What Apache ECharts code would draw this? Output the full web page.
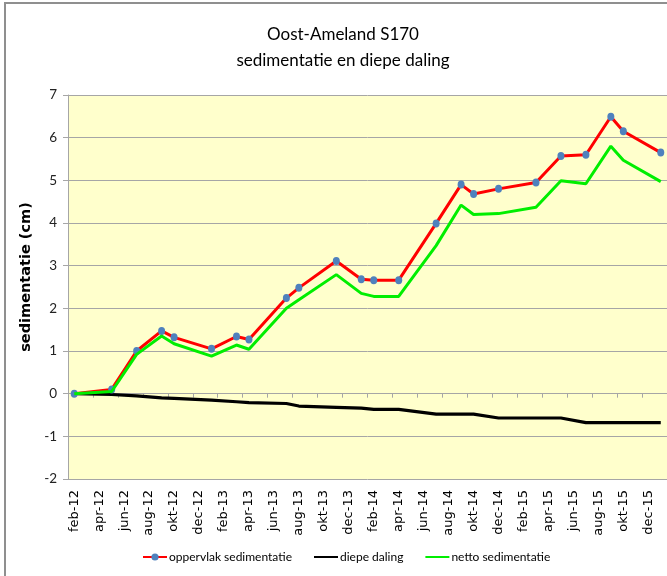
<!DOCTYPE html>
<html>
<head>
<meta charset="utf-8">
<script src="https://cdn.jsdelivr.net/npm/echarts@6/dist/echarts.min.js"></script>
<style>
  html, body { margin: 0; padding: 0; background: #ffffff; }
  #chart { width: 667px; height: 576px; }
</style>
</head>
<body>
<div id="chart"></div>
<script>
// Monthly category axis, feb-12 .. jan-16 (labels shown every two months)
const months = [
  'feb-12','mrt-12','apr-12','mei-12','jun-12','jul-12','aug-12','sep-12','okt-12','nov-12','dec-12',
  'jan-13','feb-13','mrt-13','apr-13','mei-13','jun-13','jul-13','aug-13','sep-13','okt-13','nov-13','dec-13',
  'jan-14','feb-14','mrt-14','apr-14','mei-14','jun-14','jul-14','aug-14','sep-14','okt-14','nov-14','dec-14',
  'jan-15','feb-15','mrt-15','apr-15','mei-15','jun-15','jul-15','aug-15','sep-15','okt-15','nov-15','dec-15',
  'jan-16'
];

// Measurement months
const measureMonths = [
  'feb-12','mei-12','jul-12','sep-12','okt-12','jan-13','mrt-13','apr-13','jul-13','aug-13','nov-13','jan-14',
  'feb-14','apr-14','jul-14','sep-14','okt-14','dec-14','mrt-15','mei-15','jul-15','sep-15','okt-15','jan-16'
];

// Surface sedimentation (cm)
const oppervlakSedimentatie = [
  0.00, 0.10, 1.00, 1.47, 1.32, 1.05, 1.34, 1.27, 2.24, 2.48, 3.11, 2.68,
  2.66, 2.66, 3.99, 4.90, 4.68, 4.80, 4.95, 5.57, 5.60, 6.49, 6.15, 5.65
];

// Deep subsidence (cm)
const diepeDaling = [
  0.00, -0.02, -0.05, -0.10, -0.11, -0.15, -0.19, -0.21, -0.23, -0.29, -0.32, -0.34,
  -0.37, -0.37, -0.48, -0.48, -0.48, -0.57, -0.57, -0.57, -0.68, -0.68, -0.68, -0.68
];

// Net sedimentation (cm)
const nettoSedimentatie = [
  0.00, 0.05, 0.92, 1.35, 1.17, 0.88, 1.14, 1.04, 2.00, 2.20, 2.79, 2.35,
  2.28, 2.28, 3.47, 4.42, 4.20, 4.22, 4.37, 4.99, 4.92, 5.80, 5.47, 4.97
];

const yTicks = { min: -2, max: 7, step: 1 };

const pairs = vals => measureMonths.map((m, i) => [m, vals[i]]);

const chart = echarts.init(document.getElementById('chart'), null, { renderer: 'canvas' });

const gridColor = '#a6a6a6';
const uiFont = 'Lato, "Open Sans", sans-serif';
const hiddenSymbol = { color: 'transparent', borderColor: 'transparent', borderWidth: 0 };

chart.setOption({
  backgroundColor: '#ffffff',
  animation: false,
  title: [
    {
      text: 'Oost-Ameland S170',
      left: 338, top: 21, textAlign: 'center',
      textStyle: { fontFamily: uiFont, fontSize: 17, fontWeight: 'normal', color: '#000' }
    },
    {
      text: 'sedimentatie en diepe daling',
      left: 338, top: 47, textAlign: 'center',
      textStyle: { fontFamily: uiFont, fontSize: 17, fontWeight: 'normal', color: '#000' }
    }
  ],
  graphic: [
    {
      type: 'polyline',
      shape: { points: [[5, 580], [5, 3], [680, 3]] },
      style: { stroke: '#8f8f8f', lineWidth: 2, fill: null },
      silent: true
    }
  ],
  legend: {
    left: 142, top: 551, padding: 0,
    itemWidth: 24, itemHeight: 9, itemGap: 21,
    textStyle: { fontFamily: uiFont, fontSize: 12, color: '#000', padding: [0, 0, 0, -3] },
    data: [
      { name: 'oppervlak sedimentatie' },
      { name: 'diepe daling', itemStyle: hiddenSymbol },
      { name: 'netto sedimentatie', itemStyle: hiddenSymbol }
    ]
  },
  grid: {
    left: 68, top: 95, right: -3, bottom: 97,
    show: true, backgroundColor: '#ffffcc', borderWidth: 0
  },
  xAxis: [
    {
      type: 'category',
      data: months,
      boundaryGap: true,
      axisLine: { show: true, onZero: true, lineStyle: { color: gridColor, width: 1 } },
      axisTick: { show: true, interval: 1, length: 4, inside: false, lineStyle: { color: gridColor } },
      axisLabel: { show: false },
      splitLine: { show: false }
    },
    {
      type: 'category',
      data: months,
      position: 'bottom',
      boundaryGap: true,
      axisLine: { show: false, onZero: false },
      axisTick: { show: false },
      axisLabel: {
        show: true, interval: 1, rotate: 90, margin: 11,
        fontFamily: '"DejaVu Sans", Verdana, sans-serif', fontSize: 13, color: '#000'
      },
      splitLine: { show: false }
    }
  ],
  yAxis: {
    type: 'value',
    min: yTicks.min, max: yTicks.max, interval: yTicks.step,
    name: 'sedimentatie (cm)',
    nameLocation: 'middle',
    nameGap: 20,
    nameRotate: 90,
    nameTextStyle: { fontFamily: '"DejaVu Sans", sans-serif', fontSize: 14.5, fontWeight: 'bold', color: '#000', padding: [0, 0, 0, 20] },
    axisLine: { show: true, lineStyle: { color: gridColor } },
    axisTick: { show: true, length: 5, lineStyle: { color: gridColor } },
    axisLabel: { margin: 11, fontFamily: uiFont, fontSize: 13.5, color: '#222' },
    splitLine: { show: true, lineStyle: { color: gridColor, width: 1 } }
  },
  series: [
    {
      name: 'oppervlak sedimentatie',
      type: 'line',
      xAxisIndex: 0,
      data: pairs(oppervlakSedimentatie),
      symbol: 'circle',
      symbolSize: [7, 8],
      itemStyle: { color: '#4f81bd' },
      lineStyle: { color: '#ff0000', width: 3 },
      color: '#ff0000',
      z: 3
    },
    {
      name: 'diepe daling',
      type: 'line',
      xAxisIndex: 0,
      data: pairs(diepeDaling),
      symbol: 'none',
      lineStyle: { color: '#000000', width: 3.2 },
      itemStyle: { color: '#000000' },
      z: 2
    },
    {
      name: 'netto sedimentatie',
      type: 'line',
      xAxisIndex: 0,
      data: pairs(nettoSedimentatie),
      symbol: 'none',
      lineStyle: { color: '#00ee00', width: 3 },
      itemStyle: { color: '#00ee00' },
      z: 4
    }
  ]
});
</script>
</body>
</html>
